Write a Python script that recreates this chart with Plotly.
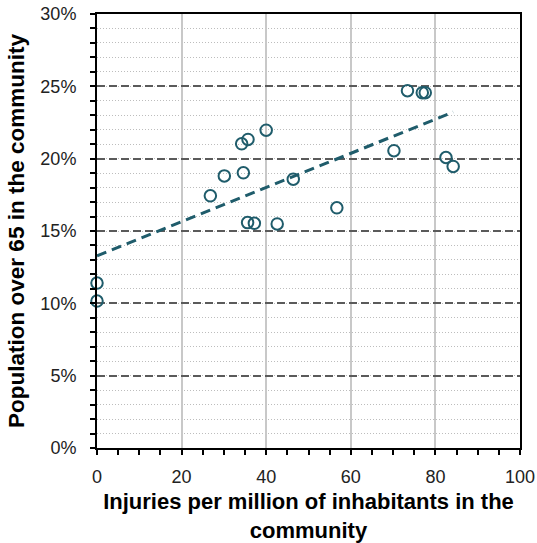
import numpy as np
import plotly.graph_objects as go

injuries = [0, 0, 26.8, 30.1, 34.2, 34.6, 35.6, 35.7, 37.2, 40.0, 42.6, 46.4, 56.7, 70.2, 73.4, 76.9, 77.6, 82.5, 84.2]
pop65 = [0.114, 0.1016, 0.1743, 0.1881, 0.2103, 0.1902, 0.1558, 0.2133, 0.1553, 0.2197, 0.1549, 0.1858, 0.166, 0.2055, 0.247, 0.2456, 0.2456, 0.2008, 0.1946]

x_ticks = [0, 20, 40, 60, 80, 100]
y_ticks = [0, 0.05, 0.10, 0.15, 0.20, 0.25, 0.30]
y_tick_labels = ["0%", "5%", "10%", "15%", "20%", "25%", "30%"]

x_title = "Injuries per million of inhabitants in the<br>community"
y_title = "Population over 65 in the community"

teal = "#1f5c6b"
FONT = "Liberation Sans, Arial, sans-serif"

slope, intercept = np.polyfit(injuries, pop65, 1)
tx = np.array([min(injuries), max(injuries)])
ty = slope * tx + intercept

fig = go.Figure()
fig.add_trace(go.Scatter(x=tx, y=ty, mode="lines",
                         line=dict(color=teal, width=3, dash="10px,6px"),
                         hoverinfo="skip", showlegend=False))
fig.add_trace(go.Scatter(x=injuries, y=pop65, mode="markers",
                         marker=dict(symbol="circle-open", size=11.5, color=teal, line=dict(width=2, color=teal)),
                         cliponaxis=False, showlegend=False))

fig.update_layout(
    width=537, height=543,
    margin=dict(l=97, r=17, t=14, b=95, autoexpand=False),
    paper_bgcolor="white", plot_bgcolor="white",
    font=dict(family=FONT, size=18, color="#222222"),
)
fig.update_xaxes(
    range=[0, 100], tickvals=x_ticks, ticktext=[str(v) for v in x_ticks],
    showline=True, linecolor="black", linewidth=2, mirror=True,
    ticks="outside", ticklen=5, tickcolor="black", tickwidth=1.5,
    showgrid=True, gridcolor="#c8c8c8", gridwidth=1.5,
    zeroline=False, ticklabelstandoff=6, automargin=False,
    minor=dict(dtick=5, ticks="outside", ticklen=5, tickcolor="black", tickwidth=1.5, showgrid=False),
    title=dict(text=x_title, font=dict(size=22, color="black", family=FONT, weight="bold"), standoff=10),
    tickfont=dict(size=18, color="#222222", family=FONT),
)
fig.update_yaxes(
    range=[0, 0.30], tickvals=y_ticks, ticktext=y_tick_labels,
    showline=True, linecolor="black", linewidth=2, mirror=True,
    ticks="outside", ticklen=5, tickcolor="black", tickwidth=1.5,
    showgrid=True, gridcolor="#5a5a5a", gridwidth=2, griddash="8px,4px",
    zeroline=False, ticklabelstandoff=10, automargin=False,
    minor=dict(dtick=0.01, ticks="outside", ticklen=5, tickcolor="black", tickwidth=1.5,
               showgrid=True, gridcolor="#bdbdbd", gridwidth=1, griddash="1px,2px"),
    title=dict(text=y_title, font=dict(size=22.5, color="black", family=FONT, weight="bold"), standoff=9),
    tickfont=dict(size=18, color="#222222", family=FONT),
)

fig.write_html("out.html")
